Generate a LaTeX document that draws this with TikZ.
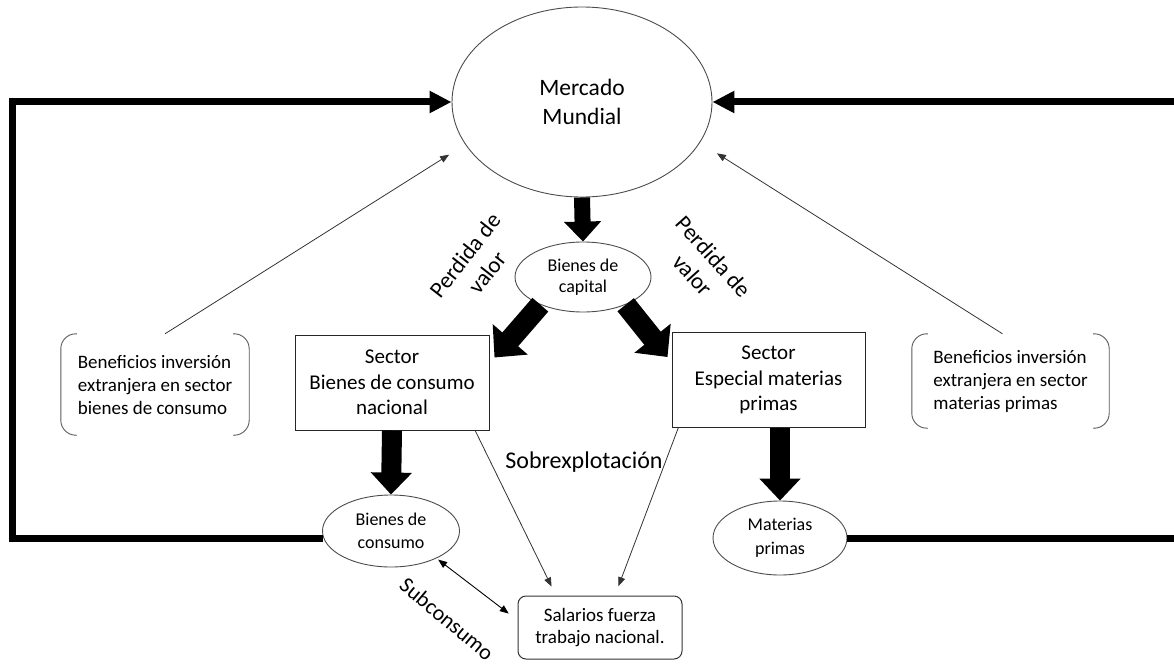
\documentclass[tikz,border=0pt]{standalone}
\usepackage{fontspec}
\setmainfont{Carlito}
\usetikzlibrary{arrows.meta,shapes.geometric,calc}

\begin{document}
\begin{tikzpicture}[x=1pt,y=-1pt,
  fs/.style 2 args={font=\fontsize{#1}{#2}\selectfont},
  oval/.style={ellipse, draw=black!70, line width=0.9pt, inner sep=0pt, align=center},
  sectorbox/.style={rectangle, draw=black!85, line width=1pt, minimum width=194pt,
    minimum height=95pt, align=center, fs={21}{25.5}},
  note/.style={inner sep=0pt, minimum width=188pt, minimum height=101pt,
    align=left, fs={19}{23}},
  bracket/.style={draw=black!65, line width=0.9pt, rounded corners=15pt},
  feedback/.style={line width=7pt, line join=miter, -{Triangle[width=21pt,length=22pt]}},
  blk/.style n args={3}{line width=#1, -{Triangle[width=#2,length=#3]}},
  thin/.style={line width=0.8pt, draw=black!80, -{Triangle[length=9pt,width=7pt]}},
  thinboth/.style={line width=0.9pt, {Triangle[length=9pt,width=7pt]}-{Triangle[length=9pt,width=7pt]}},
]
\useasboundingbox (0,0) rectangle (1174,666);
\clip (0,0) rectangle (1174,666);

% nodes
\node[oval, minimum width=260pt, minimum height=190pt, fs={23.5}{28.5}] (mm) at (582,102) {Mercado\\Mundial};
\node[oval, minimum width=136pt, minimum height=70pt, fs={18}{21.5}] (bcap) at (583,277) {Bienes de\\capital};
\node[sectorbox] (sl) at (392,382.5) {Sector\\Bienes de consumo\\nacional};
\node[sectorbox, minimum width=193pt] (sr) at (768.5,380) {Sector\\Especial materias\\primas};
\node[oval, minimum width=137pt, minimum height=72pt, fs={18}{23}] (bcons) at (391,531) {Bienes de\\consumo};
\node[oval, minimum width=134pt, minimum height=74pt, fs={18}{24}] (mp) at (780,538) {Materias\\primas};
\node[draw=black!80, line width=1pt, rounded corners=8pt, minimum width=164pt, minimum height=63pt,
  align=center, fs={19}{21.5}] (sal) at (600,627.5) {Salarios fuerza\\trabajo nacional.};
\node[note] (bl) at (155,384.5) {Beneficios inversión\\extranjera en sector\\bienes de consumo};
\node[note, minimum width=197pt, minimum height=94pt] (br) at (1010.5,381) {Beneficios inversión\\extranjera en sector\\materias primas};

% bracket outlines of the two notes
\foreach \n in {bl,br}{
  \draw[bracket] ([xshift=16pt]\n.north west) -- (\n.north west) -- (\n.south west) -- ([xshift=16pt]\n.south west);
  \draw[bracket] ([xshift=-16pt]\n.north east) -- (\n.north east) -- (\n.south east) -- ([xshift=-16pt]\n.south east);
}

% labels
\node[fs={23}{28}, rotate=52, align=center] (pvl) at (476,264) {Perdida de\\valor};
\node[fs={23}{28}, rotate=-48, align=center] (pvr) at (703,266) {Perdida de\\valor};
\node[fs={24}{28}] (sobre) at (584,462) {Sobrexplotación};
\node[fs={22}{26}, rotate=-40] (subc) at (447,619) {Subconsumo};

% feedback loops to the world market
\coordinate (fbL) at (12,0);
\coordinate (fbR) at (1195,0);
\draw[feedback] (bcons.186) -- (bcons.186 -| fbL) |- (mm.west);
\draw[feedback] (mp.east) -- (mp.east -| fbR) |- (mm.east);

% block arrows
\draw[blk={16pt}{36pt}{20pt}] (mm.south) -- (bcap.north);
\draw[blk={21pt}{45pt}{24pt}] (bcap.213) -- ($(sl.north east)+(5,23)$);
\draw[blk={21pt}{45pt}{24pt}] (bcap.-33) -- ($(sr.north west)+(-4,25)$);
\draw[blk={20pt}{40pt}{22pt}] (sl.south) -- (bcons.north);
\draw[blk={20pt}{40pt}{22pt}] (sr.south -| mp.north) -- (mp.north);

% thin arrows
\draw[thin, shorten >=10pt] (sl.-30) -- (sal.144);
\draw[thin, shorten >=10pt] (sr.208.5) -- (sal.65.5);
\draw[thinboth, shorten <=2pt, shorten >=11pt] (bcons.-31) -- (sal.175);
\draw[thin, shorten >=19pt] ($(bl.north)+(10,0)$) -- (mm.200);
\draw[thin, shorten >=20pt] ($(br.north)+(-8,0)$) -- (mm.-19);
\end{tikzpicture}
\end{document}
